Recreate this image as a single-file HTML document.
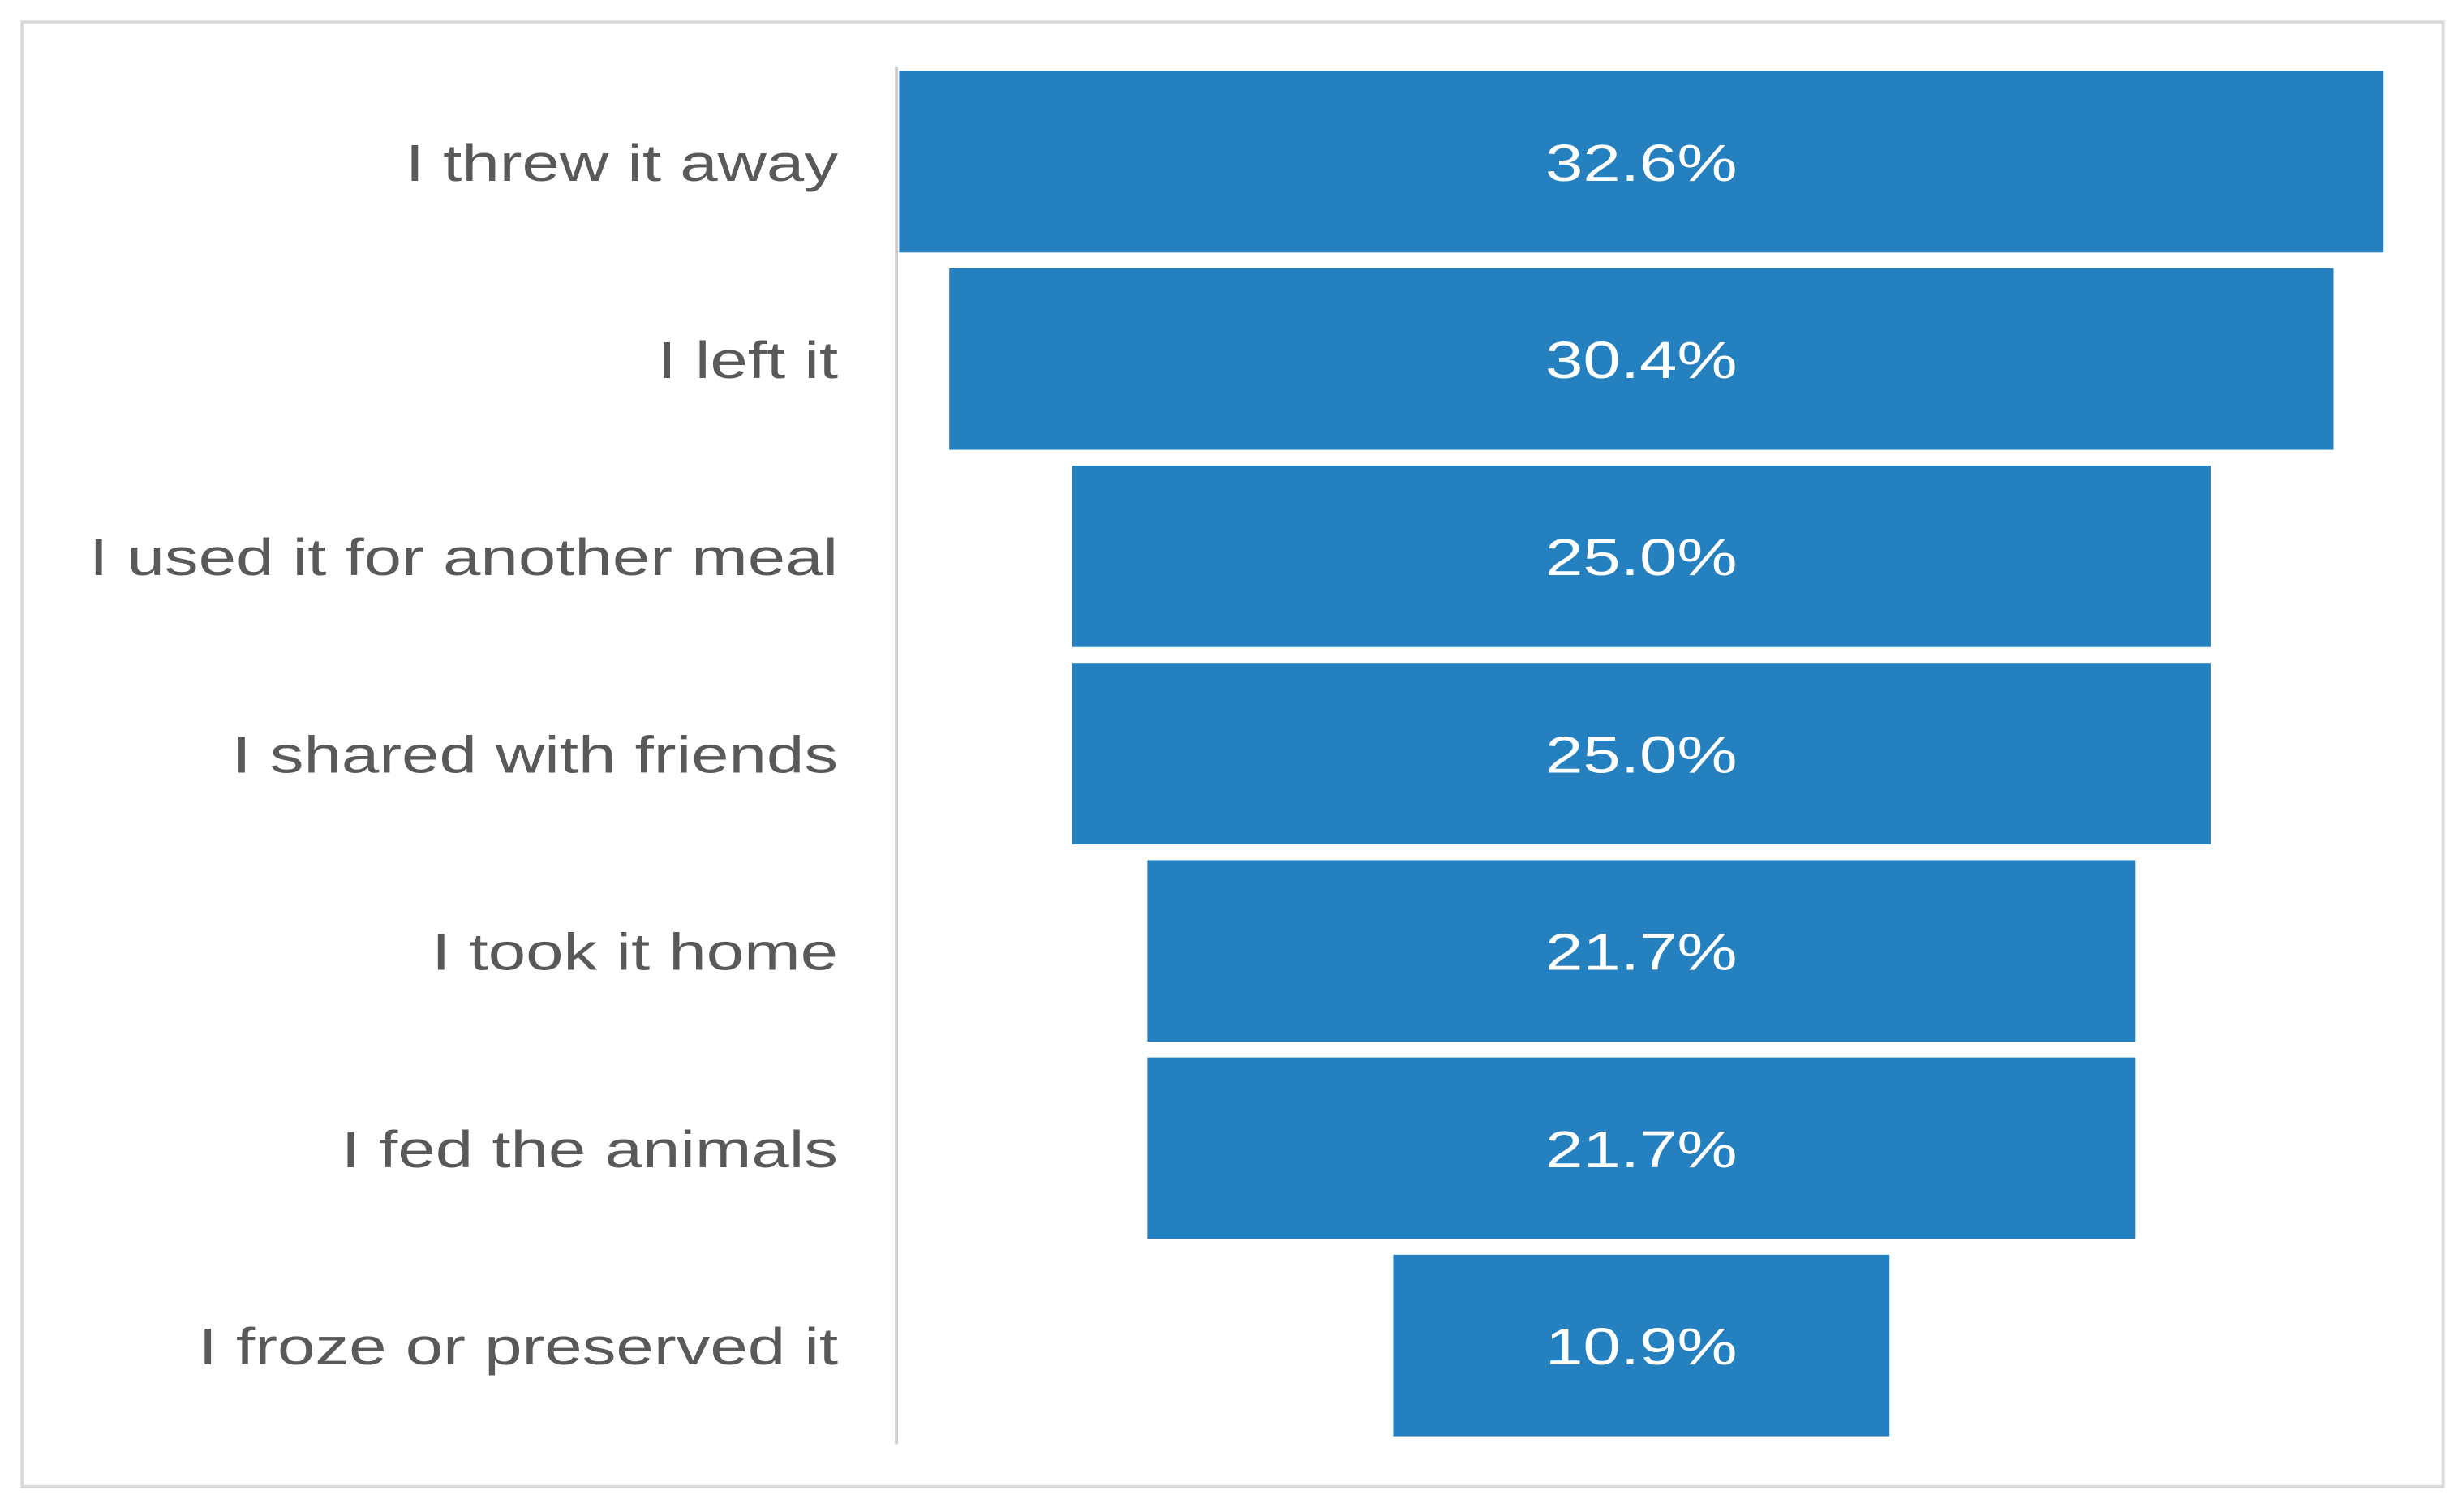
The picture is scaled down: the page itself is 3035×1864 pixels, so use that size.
<!DOCTYPE html>
<html><head><meta charset="utf-8"><style>
html,body{margin:0;padding:0;background:#fff;}
svg{display:block;}
</style></head><body>
<svg id="chart" width="3035" height="1864" viewBox="0 0 1560 958" preserveAspectRatio="none" xmlns="http://www.w3.org/2000/svg">
<rect x="14" y="14" width="1534" height="928" fill="#fff" stroke="#d9d9d9" stroke-width="2"/>
<line x1="568" y1="42" x2="568" y2="915" stroke="#d0d0d0" stroke-width="2"/>
<g id="bars"></g>
</svg>
<script>
const categories = ["I threw it away","I left it","I used it for another meal","I shared with friends","I took it home","I fed the animals","I froze or preserved it"];
const values = [32.6, 30.4, 25.0, 25.0, 21.7, 21.7, 10.9];
const valueLabels = ["32.6%","30.4%","25.0%","25.0%","21.7%","21.7%","10.9%"];

const ns = "http://www.w3.org/2000/svg";
const g = document.getElementById("bars");
const centerX = 1040, pxPerUnit = 28.85, top0 = 45, pitch = 125, barH = 115;
const stretch = 1.3;
function xScale(v){ return v * pxPerUnit; }
function yScale(i){ return top0 + i * pitch; }
categories.forEach((c, i) => {
  const w = xScale(values[i]);
  const y = yScale(i);
  const r = document.createElementNS(ns, "rect");
  r.setAttribute("x", centerX - w/2);
  r.setAttribute("y", y);
  r.setAttribute("width", w);
  r.setAttribute("height", barH);
  r.setAttribute("fill", "#2580C0");
  
  
  g.appendChild(r);
  const t = document.createElementNS(ns, "text");
  t.setAttribute("x", centerX);
  t.setAttribute("y", y + barH/2 + 12);
  t.setAttribute("text-anchor", "middle");
  t.setAttribute("fill", "#fff");
  t.setAttribute("font-family", "Liberation Sans, sans-serif");
  t.setAttribute("font-size", "33");
  t.textContent = valueLabels[i];
  
  
  g.appendChild(t);
  const tl = t.getComputedTextLength();
  t.setAttribute("textLength", tl * stretch);
  t.setAttribute("lengthAdjust", "spacingAndGlyphs");
  const l = document.createElementNS(ns, "text");
  l.setAttribute("x", 531);
  l.setAttribute("y", y + barH/2 + 12);
  l.setAttribute("text-anchor", "end");
  l.setAttribute("fill", "#595959");
  l.setAttribute("font-family", "Liberation Sans, sans-serif");
  l.setAttribute("font-size", "33");
  l.textContent = c;
  
  
  g.appendChild(l);
  const ll = l.getComputedTextLength();
  l.setAttribute("textLength", ll * stretch);
  l.setAttribute("lengthAdjust", "spacingAndGlyphs");
});
</script>
</body></html>
